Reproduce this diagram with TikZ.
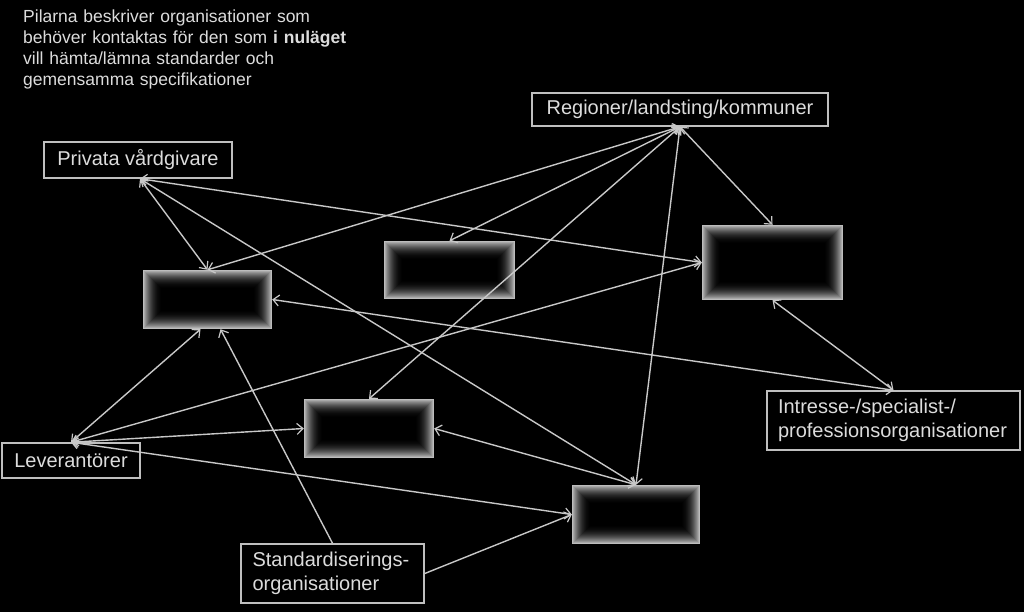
\documentclass[tikz,border=0pt]{standalone}
\usepackage{fontspec}
\setmainfont{Liberation Sans}
\usetikzlibrary{arrows.meta,calc}
\definecolor{txt}{HTML}{DCDCDC}
\definecolor{frame}{HTML}{BFBFBF}
\definecolor{conn}{HTML}{C8C8C8}
\tikzset{
  lbl/.style={draw=frame, line width=1.5pt, text=txt, fill=black,
    font=\fontsize{20}{24}\selectfont, inner sep=0pt},
  glowbox/.style={inner sep=0pt, path picture={
    \foreach \i/\c in {0/74,1/66,2/58,3/51,4/45,5/39,6/33,7/28,8/23,9/19,10/15,11/12,12/9,13/6.5,14/4.5,15/3,16/1.8,17/0.8}{
      \fill[white!\c!black] ($(path picture bounding box.south west)+(\i pt,\i pt)$)
        rectangle ($(path picture bounding box.north east)-(\i pt,\i pt)$);
    }
    \fill[black] ($(path picture bounding box.south west)+(18pt,18pt)$)
        rectangle ($(path picture bounding box.north east)-(18pt,18pt)$);
  }},
  tip/.tip={Straight Barb[length=6pt,width=11pt,line width=1.2pt]},
  link/.style={draw=conn, line width=1.4pt, tip-tip},
  onelink/.style={draw=conn, line width=1.4pt, -tip},
}
\begin{document}
\begin{tikzpicture}[x=1pt,y=-1pt]
\fill[black] (0,0) rectangle (1024,612);
\useasboundingbox (0,0) rectangle (1024,612);

% note
\node[anchor=base west, text=txt, inner sep=0pt, text width=360pt, align=left,
  font=\fontsize{17.5}{21}\selectfont] (note) at (23,23)
  {Pilarna beskriver organisationer som\\
   behöver kontaktas för den som \textbf{i nuläget}\\
   vill hämta/lämna standarder och\\
   gemensamma specifikationer};

% labelled boxes
\node[lbl, minimum width=296pt, minimum height=33pt] (reg) at (680,109.5) {Regioner/landsting/kommuner};
\node[lbl, minimum width=188pt, minimum height=36pt] (priv) at (138,160) {Privata vårdgivare};
\node[lbl, minimum width=138pt, minimum height=35pt] (lev) at (71,460.5) {Leverantörer};
\node[lbl, minimum height=59pt, inner xsep=11pt, text width=231pt, align=left] (int) at (893.5,420.5)
  {Intresse-/specialist-/\\professionsorganisationer};
\node[lbl, minimum height=59pt, inner xsep=11.5pt, text width=160pt, align=left] (std) at (332.5,573.5)
  {Standardiserings-\\organisationer};

% glowing boxes
\node[glowbox, minimum width=129pt, minimum height=59pt] (A) at (207.5,299.5) {};
\node[glowbox, minimum width=131pt, minimum height=58pt] (B) at (449.5,270) {};
\node[glowbox, minimum width=141pt, minimum height=75pt] (C) at (772.5,262.5) {};
\node[glowbox, minimum width=130pt, minimum height=59pt] (D) at (369,428.5) {};
\node[glowbox, minimum width=128pt, minimum height=59pt] (E) at (636,514.5) {};

% connectors
\draw[link] (reg.south) -- (A.north);
\draw[link] (reg.south) -- (B.north);
\draw[link] (reg.south) -- (D.north);
\draw[link] (reg.south) -- (E.north);
\draw[link] (reg.south) -- (C.north);
\draw[link] ($(priv.south)+(2,0)$) -- (A.north);
\draw[link] ($(priv.south)+(2,0)$) -- (C.west);
\draw[link] ($(priv.south)+(2,0)$) -- (E.north);
\draw[link] (lev.north) -- ($(A.south)+(-7,0)$);
\draw[link] (lev.north) -- (C.west);
\draw[link] (lev.north) -- (D.west);
\draw[link] (lev.north) -- (E.west);
\draw[link] (int.north) -- (A.east);
\draw[link] (int.north) -- (C.south);
\draw[link] (D.east) -- (E.north);
\draw[onelink] (std.north) -- ($(A.south)+(13,0)$);
\draw[onelink] (std.east) -- (E.west);
\end{tikzpicture}
\end{document}
